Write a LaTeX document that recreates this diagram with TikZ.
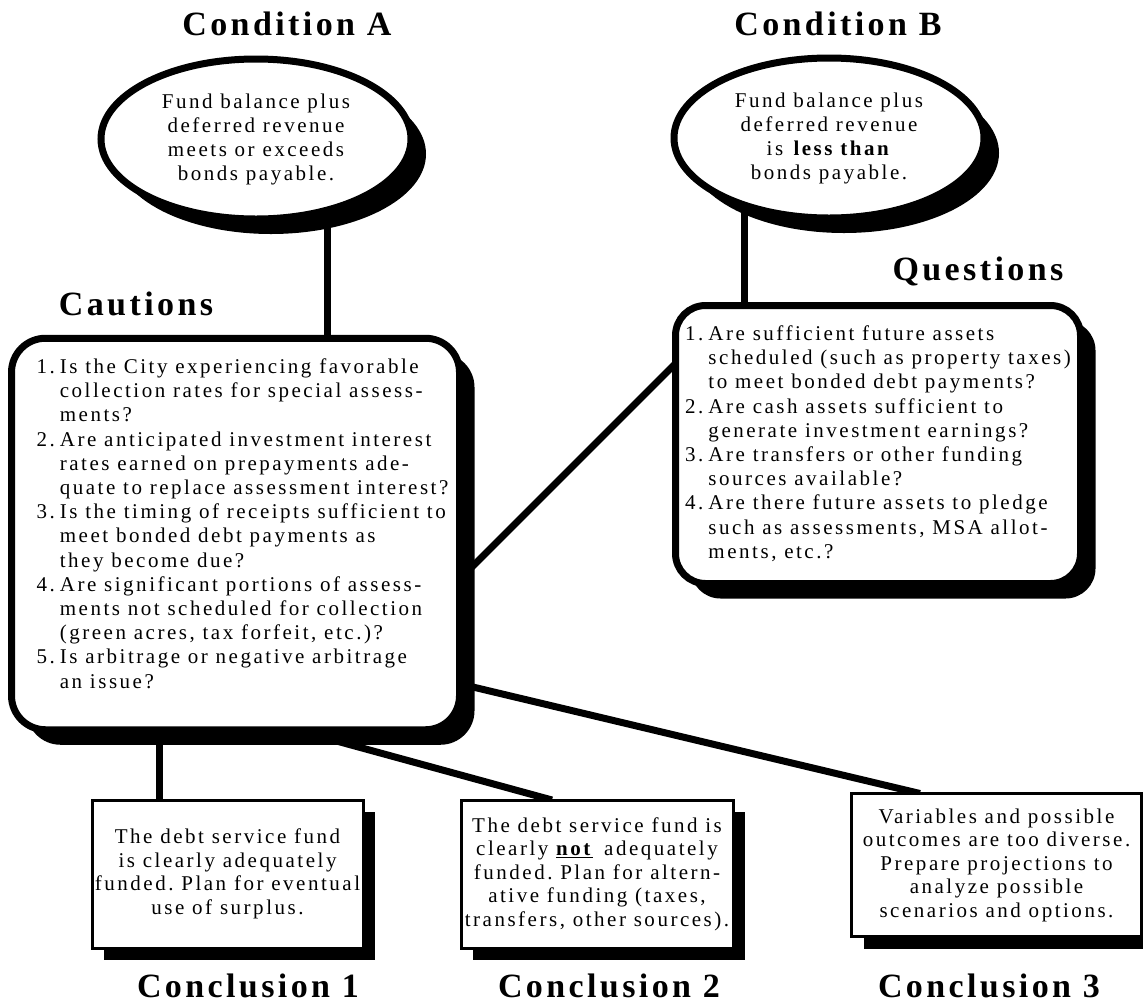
\documentclass[tikz,border=0pt]{standalone}
\usepackage{fontspec}
\setmainfont{Liberation Serif}[LetterSpace=12]
\newfontfamily\headfont{Liberation Serif}[LetterSpace=10]
\usetikzlibrary{shapes.geometric}
\usetikzlibrary{shadows}
\usetikzlibrary{backgrounds}
\frenchspacing

\tikzset{
  cond/.style={ellipse, draw, fill=white, line width=7pt, minimum width=310pt,
    minimum height=160pt, inner sep=0pt, outer sep=0pt, align=center,
    font=\fontsize{21}{24}\selectfont,
    drop shadow={shadow xshift=15pt, shadow yshift=-15pt, fill=black, opacity=1}},
  panel/.style={rectangle, rounded corners=34pt, draw, fill=white, line width=7pt,
    inner sep=0pt, outer sep=0pt, font=\fontsize{21}{24.2}\selectfont,
    drop shadow={shadow xshift=15pt, shadow yshift=-15pt, fill=black, opacity=1}},
  result/.style={rectangle, draw, fill=white, line width=3pt, inner sep=0pt,
    outer sep=0pt, align=center, font=\fontsize{21}{23.5}\selectfont,
    drop shadow={shadow xshift=12pt, shadow yshift=-12pt, fill=black, opacity=1}},
  heading/.style={anchor=base, inner sep=0pt, font=\headfont\bfseries\fontsize{34}{34}\selectfont},
  link/.style={line width=7pt}
}

\begin{document}
\begin{tikzpicture}[x=1pt,y=-1pt]
  \useasboundingbox (0,0) rectangle (1143,1005);

  \node[cond] (conda) at (256,139)
    {Fund balance plus\\deferred revenue\\meets or exceeds\\bonds payable.};
  \node[cond] (condb) at (829,138)
    {Fund balance plus\\deferred revenue\\is \textbf{less than}\\bonds payable.};

  \node[panel, minimum width=448pt, minimum height=391.5pt] (caut) at (235.5,534)
    {\hspace*{14pt}\begin{tabular}[t]{@{}r@{\hspace{5pt}}l@{}}
      1. & Is the City experiencing favorable\\
         & collection rates for special assess-\\
         & ments?\\
      2. & Are anticipated investment interest\\
         & rates earned on prepayments ade-\\
         & quate to replace assessment interest?\\
      3. & Is the timing of receipts sufficient to\\
         & meet bonded debt payments as\\
         & they become due?\\
      4. & Are significant portions of assess-\\
         & ments not scheduled for collection\\
         & (green acres, tax forfeit, etc.)?\\
      5. & Is arbitrage or negative arbitrage\\
         & an issue?\\[16pt]
    \end{tabular}};
  \node[panel, rounded corners=30pt, minimum width=405pt, minimum height=278pt] (quest) at (878,444.5)
    {\begin{tabular}[t]{@{}r@{\hspace{5pt}}l@{}}
      1. & Are sufficient future assets\\
         & scheduled (such as property taxes)\\
         & to meet bonded debt payments?\\
      2. & Are cash assets sufficient to\\
         & generate investment earnings?\\
      3. & Are transfers or other funding\\
         & sources available?\\
      4. & Are there future assets to pledge\\
         & such as assessments, MSA allot-\\
         & ments, etc.?
    \end{tabular}};

  \node[result, minimum width=271pt, minimum height=148pt] (conc1) at (227.5,874)
    {The debt service fund\\is clearly adequately\\funded. Plan for eventual\\use of surplus.};
  \node[result, minimum width=272pt, minimum height=148pt] (conc2) at (597,874)
    {The debt service fund is\\clearly \underline{\textbf{not}}\, adequately\\funded. Plan for altern-\\ative funding (taxes,\\transfers, other sources).};
  \node[result, minimum width=290pt, minimum height=143pt] (conc3) at (996.5,865)
    {Variables and possible\\outcomes are too diverse.\\Prepare projections to\\analyze possible\\scenarios and options.};

  \node[heading] (heada) at (287,35) {Condition A};
  \node[heading] (headb) at (838,35) {Condition B};
  \node[heading] (headc) at (136,315) {Cautions};
  \node[heading] (headq) at (978,280) {Questions};
  \node[heading] (head1) at (248,997) {Conclusion 1};
  \node[heading] (head2) at (609,997) {Conclusion 2};
  \node[heading] (head3) at (989,997) {Conclusion 3};

  \begin{scope}[on background layer]
    \draw[link] ([xshift=71.5pt]conda.center) -- ([xshift=71.5pt]conda.center |- caut.center);
    \draw[link] ([xshift=-85pt]condb.center) -- ([xshift=-85pt]condb.center |- quest.center);
    \draw[link] ([shift={(204.5,65)}]caut.center) -- ([shift={(-178,-105.5)}]quest.center);
    \draw[link] ([xshift=-68.5pt]conc1.north) -- ([xshift=-68.5pt]conc1.north |- caut.center);
    \draw[link] ([shift={(-35.5,169.6)}]caut.center) -- ([xshift=-45pt]conc2.north);
    \draw[link] ([shift={(184.5,140.4)}]caut.center) -- ([xshift=-76.5pt]conc3.north);
  \end{scope}
\end{tikzpicture}
\end{document}
